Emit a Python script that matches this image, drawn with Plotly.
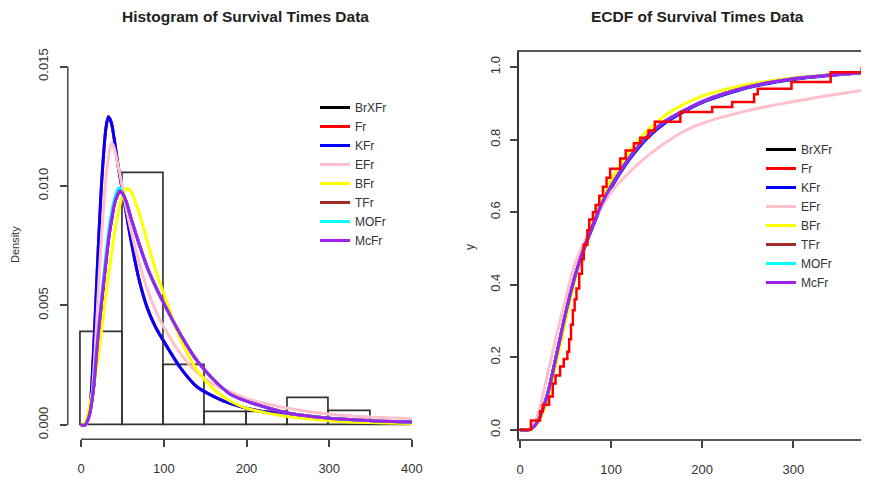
import plotly.graph_objects as go

# ---------------- data ----------------
legend_names = ["BrXFr", "Fr", "KFr", "EFr", "BFr", "TFr", "MOFr", "McFr"]
legend_colors = ["#000000", "#FF0000", "#0000FF", "#FFC0CB", "#FFFF00", "#A52A2A", "#00FFFF", "#A020F0"]

# histogram (density scale)
bin_edges = [0, 50, 100, 150, 200, 250, 300, 350, 400]
bin_density = [0.0039, 0.01053, 0.00251, 0.00053, 0.00053, 0.00112, 0.00056, 0.0]

# fitted density curves
dens_x = [0, 5, 10, 15, 20, 25, 30, 33, 35, 37, 40, 45, 47, 50, 55, 60, 70, 80, 90, 100,
          120, 140, 160, 180, 200, 250, 300, 350, 400]
dens_KFr = [0, 0, 0.0005, 0.0030, 0.0068, 0.0102, 0.0124, 0.0129, 0.0128, 0.0126, 0.0120, 0.0108,
            0.0104, 0.0098, 0.0088, 0.0078, 0.0061, 0.0049, 0.0041, 0.0035,
            0.0024, 0.0016, 0.0012, 0.0009, 0.0007, 0.0004, 0.00022, 0.00014, 0.0001]
dens_EFr = [0, 0, 0.0003, 0.0020, 0.0050, 0.0080, 0.0103, 0.0112, 0.0116, 0.0118, 0.0116, 0.0108,
            0.0105, 0.0099, 0.0090, 0.0082, 0.0068, 0.0057, 0.0048, 0.0041,
            0.0030, 0.0022, 0.0017, 0.0014, 0.0011, 0.0007, 0.00045, 0.00033, 0.00025]
dens_BFr = [0, 0.0001, 0.0008, 0.0016, 0.0026, 0.0040, 0.0054, 0.0062, 0.0067, 0.0072, 0.0079, 0.0089,
            0.0092, 0.0096, 0.0099, 0.0098, 0.0089, 0.0077, 0.0065, 0.0055,
            0.0036, 0.0023, 0.0015, 0.0010, 0.0007, 0.00035, 0.00018, 0.0001, 0.00006]
dens_McFr = [0, 0, 0.0004, 0.0015, 0.0035, 0.0052, 0.0068, 0.0077, 0.0082, 0.0086, 0.0092, 0.0097,
             0.0098, 0.0097, 0.0093, 0.0087, 0.0076, 0.0066, 0.0058, 0.0051,
             0.0038, 0.0027, 0.0019, 0.0013, 0.0010, 0.0005, 0.00028, 0.00018, 0.00012]
dens_MOFr = [0, 0, 0.0004, 0.0016, 0.0036, 0.0054, 0.0071, 0.0080, 0.0085, 0.0089, 0.0094, 0.0099,
             0.0099, 0.0097, 0.0093, 0.0087, 0.0076, 0.0066, 0.0058, 0.0051,
             0.0038, 0.0027, 0.0019, 0.0013, 0.0010, 0.0005, 0.00028, 0.00018, 0.00012]
dens_BrXFr = dens_McFr
dens_Fr = dens_KFr
dens_TFr = dens_McFr

# empirical CDF (jump points and level after each jump)
ecdf_x = [12, 22, 25, 32, 36, 39, 44, 48, 52, 54, 56, 58, 60, 62, 65, 68, 70, 74, 76, 80,
          83, 87, 91, 95, 99, 110, 116, 125, 132, 141, 148, 176, 211, 233, 257, 261, 298, 341, 375]
ecdf_F = [0.026, 0.051, 0.069, 0.092, 0.128, 0.15, 0.175, 0.195, 0.215, 0.25, 0.29, 0.33, 0.36,
          0.39, 0.43, 0.47, 0.51, 0.55, 0.58, 0.60, 0.62, 0.645, 0.67, 0.695, 0.72, 0.748, 0.77,
          0.79, 0.805, 0.825, 0.849, 0.876, 0.89, 0.904, 0.925, 0.94, 0.959, 0.986, 1.0]

# fitted CDF curves
cdf_x = [0, 10, 15, 20, 30, 40, 50, 60, 70, 80, 90, 100, 120, 140, 160, 180, 200, 250, 300, 350, 390]
cdf_McFr = [0, 0.0, 0.008, 0.025, 0.095, 0.205, 0.32, 0.42, 0.50, 0.565, 0.625, 0.672, 0.75, 0.81,
            0.852, 0.88, 0.905, 0.945, 0.968, 0.98, 0.987]
cdf_EFr = [0, 0.003, 0.018, 0.045, 0.15, 0.26, 0.36, 0.455, 0.515, 0.57, 0.615, 0.655, 0.71, 0.755,
           0.792, 0.823, 0.845, 0.88, 0.905, 0.926, 0.942]
cdf_BFr = [0, 0.0, 0.006, 0.02, 0.08, 0.185, 0.30, 0.41, 0.50, 0.575, 0.64, 0.69, 0.767, 0.826,
           0.868, 0.898, 0.92, 0.952, 0.97, 0.98, 0.986]
cdf_KFr = [0, 0.001, 0.009, 0.027, 0.098, 0.207, 0.318, 0.416, 0.495, 0.56, 0.62, 0.667, 0.745, 0.805,
           0.847, 0.877, 0.902, 0.943, 0.966, 0.979, 0.986]
cdf_BrXFr = cdf_McFr
cdf_Fr = cdf_McFr
cdf_TFr = cdf_McFr
cdf_MOFr = cdf_McFr

x_ticks_left = [0, 100, 200, 300, 400]
y_ticks_left = [0.0, 0.005, 0.010, 0.015]
x_ticks_right = [0, 100, 200, 300]
y_ticks_right = [0.0, 0.2, 0.4, 0.6, 0.8, 1.0]

# ---------------- figure ----------------
S = 8                      # page body margin offset
W, H = 869 - S, 480 - S


def fx(px):
    return (px - S) / W


def fy(py):
    return 1 - (py - S) / H


FONT = "Liberation Sans, Arial, sans-serif"
TXT = "#333333"
AX = "#444444"

fig = go.Figure()

# histogram bars
centers = [(a + b) / 2 for a, b in zip(bin_edges[:-1], bin_edges[1:])]
widths = [b - a for a, b in zip(bin_edges[:-1], bin_edges[1:])]
fig.add_trace(go.Bar(x=centers, y=bin_density, width=widths,
                     marker=dict(color="rgba(0,0,0,0)", line=dict(color="#333333", width=1.7)),
                     showlegend=False, hoverinfo="skip", xaxis="x", yaxis="y"))

dens_series = [dens_BrXFr, dens_Fr, dens_KFr, dens_EFr, dens_BFr, dens_TFr, dens_MOFr, dens_McFr]
for name, col, ys in zip(legend_names, legend_colors, dens_series):
    fig.add_trace(go.Scatter(x=dens_x, y=ys, mode="lines", name=name,
                             line=dict(color=col, width=3, shape="spline", smoothing=0.8),
                             xaxis="x", yaxis="y", legend="legend"))

cdf_series = [cdf_BrXFr, cdf_Fr, cdf_KFr, cdf_EFr, cdf_BFr, cdf_TFr, cdf_MOFr, cdf_McFr]
for name, col, ys in zip(legend_names, legend_colors, cdf_series):
    fig.add_trace(go.Scatter(x=cdf_x, y=ys, mode="lines", name=name,
                             line=dict(color=col, width=3, shape="spline", smoothing=0.8),
                             xaxis="x2", yaxis="y2", legend="legend2"))

# empirical CDF step function
step_x = [-5] + ecdf_x
step_y = [0] + ecdf_F
fig.add_trace(go.Scatter(x=step_x, y=step_y, mode="lines", line=dict(color="#FF0000", width=2.5, shape="hv"),
                         showlegend=False, xaxis="x2", yaxis="y2"))

ydom = [fy(439.3), fy(52.2)]
tickfont = dict(family=FONT, size=13, color=TXT)

fig.update_layout(
    width=W, height=H, margin=dict(l=0, r=0, t=0, b=0, autoexpand=False),
    paper_bgcolor="white", plot_bgcolor="white",
    font=dict(family=FONT, color=TXT),
    xaxis=dict(domain=[fx(67.8), fx(425.2)], range=[-16, 416], tickvals=x_ticks_left,
               ticks="outside", ticklen=7, tickcolor=AX, tickwidth=1.5, showgrid=False,
               zeroline=False, showline=False, tickfont=tickfont, ticklabelstandoff=10),
    yaxis=dict(domain=ydom, range=[-0.0006, 0.0156], tickvals=y_ticks_left, tickformat=".3f",
               ticks="outside", ticklen=7, tickcolor=AX, tickwidth=1.5, showgrid=False,
               zeroline=False, showline=False, tickangle=-90, tickfont=tickfont,
               ticklabelstandoff=7),
    xaxis2=dict(domain=[fx(519), 1.0], range=[-1.1, 383.1], tickvals=x_ticks_right,
                ticks="outside", ticklen=7, tickcolor=AX, tickwidth=1.5, showgrid=False,
                zeroline=False, showline=True, linecolor="#555555", linewidth=1.5, mirror=True,
                tickfont=tickfont, ticklabelstandoff=10, anchor="y2"),
    yaxis2=dict(domain=ydom, range=[-0.026, 1.041], tickvals=y_ticks_right, tickformat=".1f",
                ticks="outside", ticklen=7, tickcolor=AX, tickwidth=1.5, showgrid=False,
                zeroline=False, showline=True, linecolor="#333333", linewidth=1.5,
                tickangle=-90, tickfont=tickfont, anchor="x2", ticklabelstandoff=5),
    legend=dict(x=fx(315), y=fy(93), xanchor="left", yanchor="top",
                bgcolor="rgba(0,0,0,0)", font=dict(family=FONT, size=12, color=TXT),
                tracegroupgap=0),
    legend2=dict(x=fx(761), y=fy(135), xanchor="left", yanchor="top",
                 bgcolor="rgba(0,0,0,0)", font=dict(family=FONT, size=12, color=TXT),
                 tracegroupgap=0),
    bargap=0,
)

# R-style detached axis lines for the histogram panel (span first..last tick)
fig.add_shape(type="line", xref="x", yref="y domain", x0=x_ticks_left[0], x1=x_ticks_left[-1],
              y0=0, y1=0, line=dict(color=AX, width=1.5))
fig.add_shape(type="line", xref="x domain", yref="y", x0=0, x1=0, y0=y_ticks_left[0],
              y1=y_ticks_left[-1], line=dict(color=AX, width=1.5))

# titles and axis labels
title_font = dict(family=FONT, size=15.5, color="#222222")
fig.add_annotation(text="<b>Histogram of Survival Times Data</b>", x=fx(245), y=fy(17),
                   xref="paper", yref="paper", xanchor="center", yanchor="middle",
                   showarrow=False, font=title_font)
fig.add_annotation(text="<b>ECDF of Survival Times Data</b>", x=fx(697), y=fy(17),
                   xref="paper", yref="paper", xanchor="center", yanchor="middle",
                   showarrow=False, font=title_font)
fig.add_annotation(text="Density", x=fx(15), y=fy(245), xref="paper", yref="paper",
                   xanchor="center", yanchor="middle",
                   showarrow=False, textangle=-90, font=dict(family=FONT, size=11, color=TXT))
fig.add_annotation(text="y", x=fx(470), y=fy(247), xref="paper", yref="paper",
                   xanchor="center", yanchor="middle",
                   showarrow=False, textangle=-90, font=dict(family=FONT, size=12, color=TXT))

fig.write_html("out.html")
